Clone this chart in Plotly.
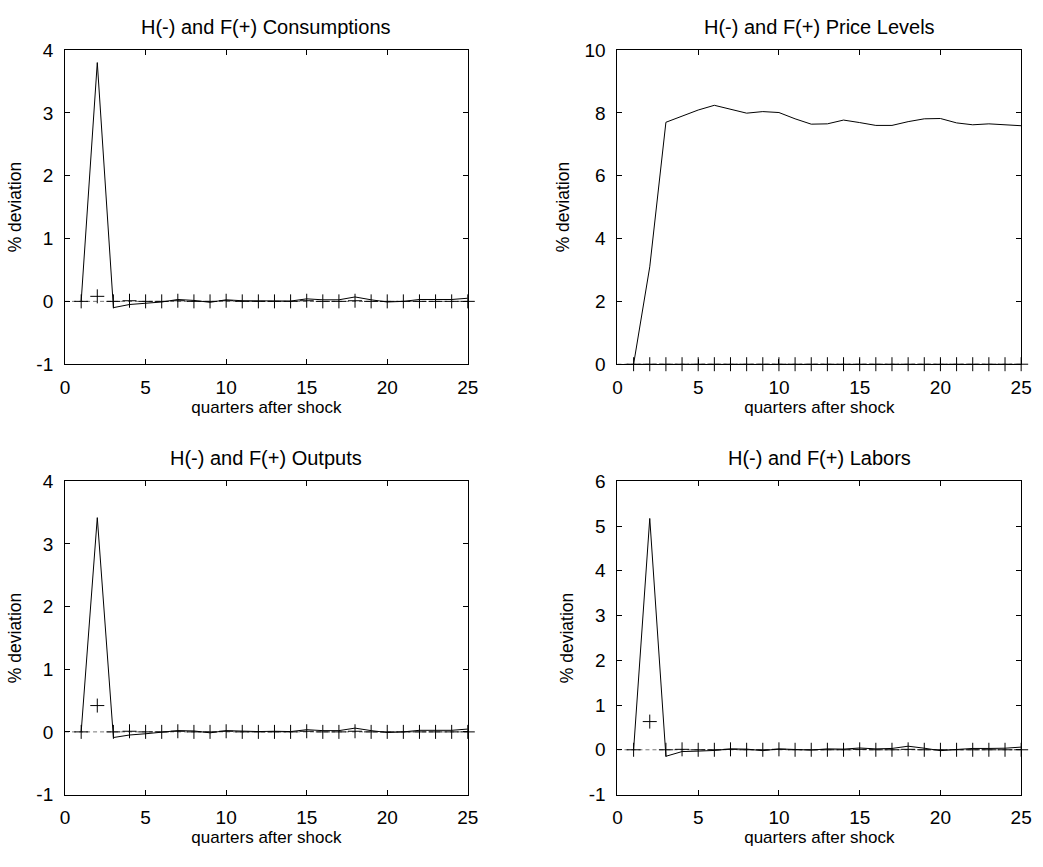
import plotly.graph_objects as go

quarters = list(range(1, 26))

cons_H = [0, 3.8, -0.10, -0.05, -0.03, -0.01, 0.03, 0.015, -0.015, 0.025, 0.01, 0.005, 0.01,
          0.005, 0.04, 0.025, 0.025, 0.07, 0.025, -0.01, 0.0, 0.03, 0.03, 0.03, 0.05]
cons_F = [0, 0.08, 0.0, 0.01, 0.0, 0.0, 0.01, 0.0, 0.0, 0.01, 0.0, 0.0, 0.0,
          0.0, 0.01, 0.0, 0.0, 0.01, 0.0, 0.0, 0.0, 0.0, 0.0, 0.0, 0.0]

price_H = [0, 3.1, 7.70, 7.90, 8.09, 8.24, 8.12, 7.99, 8.04, 8.01, 7.81, 7.64, 7.65,
           7.77, 7.69, 7.60, 7.60, 7.72, 7.81, 7.82, 7.68, 7.62, 7.65, 7.62, 7.59]
price_F = [0] * 25

out_H = [0, 3.42, -0.09, -0.05, -0.03, -0.01, 0.02, 0.015, -0.015, 0.02, 0.01, 0.005, 0.01,
         0.005, 0.035, 0.02, 0.02, 0.06, 0.02, -0.01, 0.0, 0.025, 0.025, 0.025, 0.045]
out_F = [0, 0.42, 0.0, 0.01, 0.0, 0.0, 0.01, 0.0, 0.0, 0.01, 0.0, 0.0, 0.0,
         0.0, 0.01, 0.0, 0.0, 0.01, 0.0, 0.0, 0.0, 0.0, 0.0, 0.0, 0.0]

lab_H = [0, 5.17, -0.145, -0.04, -0.03, -0.015, 0.02, 0.015, -0.02, 0.02, 0.007, -0.007, 0.02,
         0.015, 0.04, 0.02, 0.03, 0.08, 0.035, -0.02, 0.007, 0.03, 0.03, 0.035, 0.06]
lab_F = [0, 0.63, 0.0, 0.01, 0.0, 0.0, 0.01, 0.0, 0.0, 0.01, 0.0, 0.0, 0.0,
         0.0, 0.01, 0.0, 0.0, 0.01, 0.0, 0.0, 0.0, 0.0, 0.0, 0.0, 0.0]

titles = ["H(-) and F(+) Consumptions", "H(-) and F(+) Price Levels",
          "H(-) and F(+) Outputs", "H(-) and F(+) Labors"]
y_ticks = [[-1, 0, 1, 2, 3, 4], [0, 2, 4, 6, 8, 10], [-1, 0, 1, 2, 3, 4], [-1, 0, 1, 2, 3, 4, 5, 6]]
x_tickvals = [0, 5, 10, 15, 20, 25]

W, H = 1043, 867
# panel boxes in pixels: (left, right, top, bottom)
boxes = [(61, 470, 41, 363), (622, 1032, 41, 363),
         (61, 470, 483, 804), (622, 1032, 483, 804)]
title_centers = [17, 17, 459, 459]

series = [(cons_H, cons_F), (price_H, price_F), (out_H, out_F), (lab_H, lab_F)]

FONT = "Liberation Sans, Arial, sans-serif"
FS = 17
fig = go.Figure()
layout = dict(
    width=W, height=H, margin=dict(l=0, r=0, t=0, b=0),
    paper_bgcolor="white", plot_bgcolor="white", showlegend=False,
    font=dict(family=FONT, size=FS, color="black"),
    annotations=[],
)

for i, ((hs, fs), box) in enumerate(zip(series, boxes)):
    n = i + 1
    xa = "x" if n == 1 else f"x{n}"
    ya = "y" if n == 1 else f"y{n}"
    l, r, t, b = box
    # zero reference line
    fig.add_trace(go.Scatter(x=[0, 25], y=[0, 0], mode="lines",
                             line=dict(color="#777777", width=1, dash="4px,3px"),
                             xaxis=xa, yaxis=ya, hoverinfo="skip", cliponaxis=False))
    fig.add_trace(go.Scatter(x=quarters, y=hs, mode="lines",
                             line=dict(color="black", width=1),
                             xaxis=xa, yaxis=ya))
    fig.add_trace(go.Scatter(x=quarters, y=fs, mode="markers",
                             marker=dict(symbol="cross-thin", size=10,
                                         line=dict(color="black", width=1)),
                             xaxis=xa, yaxis=ya, cliponaxis=False))
    xkey = "xaxis" if n == 1 else f"xaxis{n}"
    ykey = "yaxis" if n == 1 else f"yaxis{n}"
    yt = y_ticks[i]
    layout[xkey] = dict(
        domain=[l / W, r / W], anchor=ya, range=[0, 25],
        tickvals=x_tickvals, ticks="inside", ticklen=5, tickcolor="black",
        showline=True, linecolor="black", linewidth=1, mirror="ticks",
        showgrid=False, zeroline=False, ticklabelstandoff=6,
        title=dict(text="quarters after shock", standoff=1, font=dict(size=FS)),
        tickfont=dict(size=19),
    )
    layout[ykey] = dict(
        domain=[1 - b / H, 1 - t / H], anchor=xa, range=[yt[0], yt[-1]],
        tickvals=yt, ticktext=[str(v) for v in yt],
        ticks="inside", ticklen=5, tickcolor="black",
        showline=True, linecolor="black", linewidth=1, mirror="ticks",
        showgrid=False, zeroline=False, ticklabelstandoff=7,
        title=dict(text="% deviation", standoff=10, font=dict(size=FS + 0.5)),
        tickfont=dict(size=19),
    )
    layout["annotations"].append(dict(
        text=titles[i], x=(l + r) / 2 / W, y=1 - title_centers[i] / H,
        xref="paper", yref="paper", xanchor="center", yanchor="middle",
        showarrow=False, font=dict(size=20, family=FONT)))

fig.update_layout(**layout)
fig.write_html("out.html", config={"displayModeBar": False},
               post_script="document.body.style.margin='0px';")
